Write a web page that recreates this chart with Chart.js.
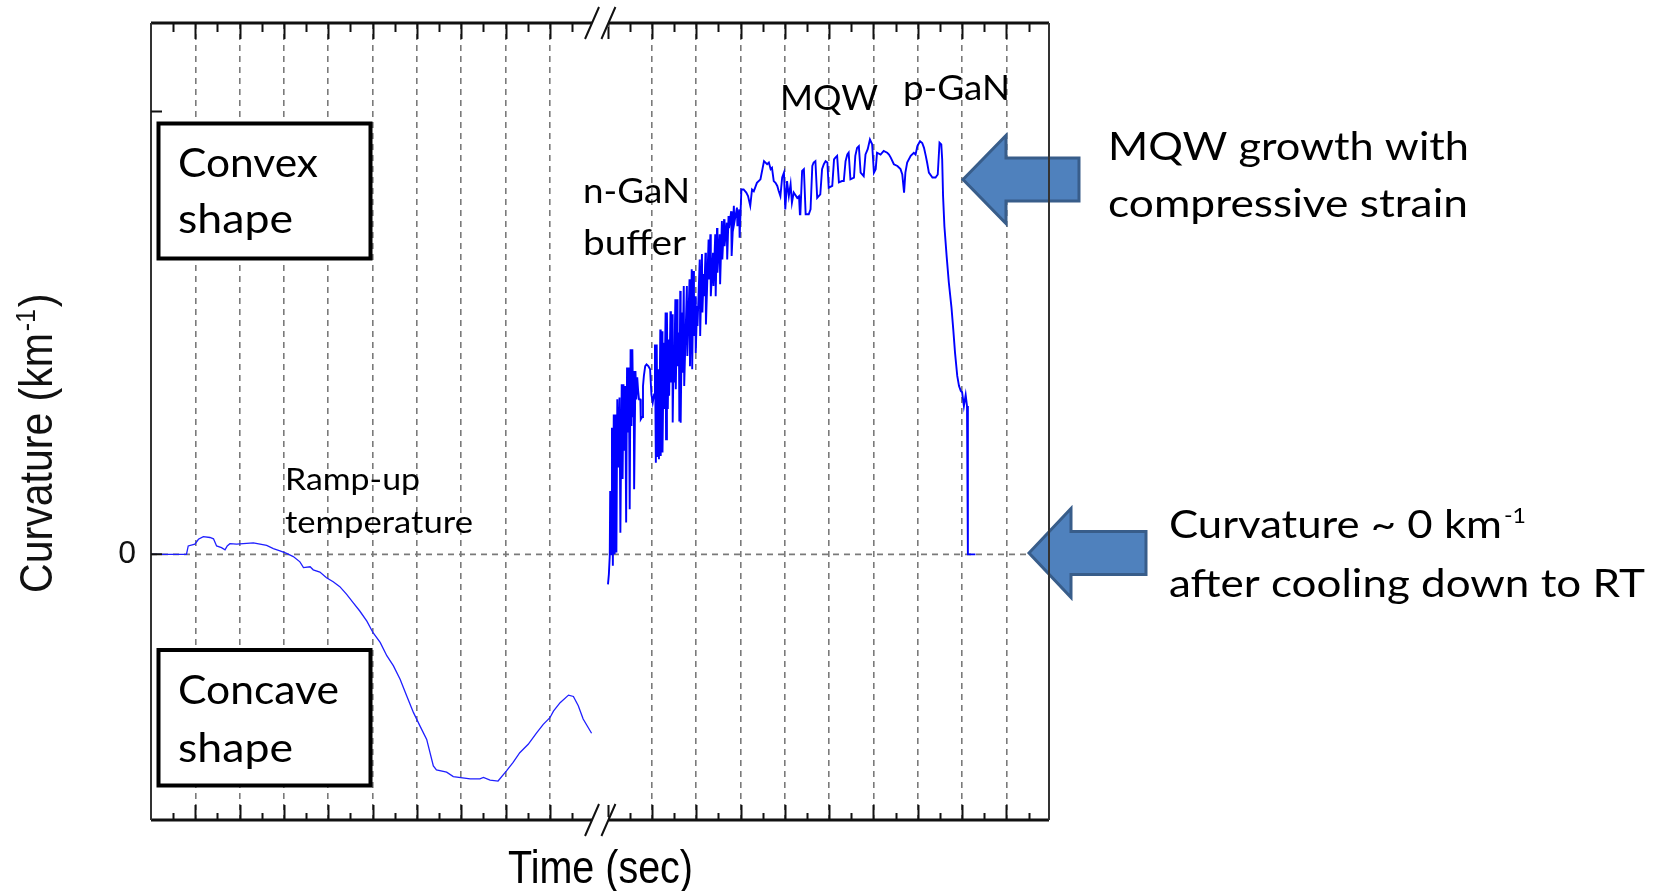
<!DOCTYPE html>
<html>
<head>
<meta charset="utf-8">
<title>Wafer curvature during LED growth</title>
<script src="https://cdn.jsdelivr.net/npm/chart.js@4.4.0/dist/chart.umd.min.js"></script>
<style>
  html, body { margin: 0; padding: 0; background: #fff; }
</style>
</head>
<body>
<canvas id="curv" width="1659" height="891"></canvas>
<script>
// time in grid units (one dashed line per unit), curvature in km^-1

// ramp-up, before the axis break
const rampTime = [0, 0.80, 0.84, 0.99, 1.07, 1.18, 1.33, 1.41, 1.48, 1.59, 1.67, 1.72, 1.78, 1.93, 2.08, 2.31, 2.46, 2.61, 2.76, 2.91, 3.06, 3.21, 3.36, 3.44, 3.59, 3.66, 3.81, 3.96, 4.11, 4.26, 4.41, 4.56, 4.71, 4.87, 5.01, 5.17, 5.32, 5.47, 5.62, 5.77, 5.92, 6.07, 6.22, 6.37, 6.44, 6.67, 6.82, 7.20, 7.42, 7.50, 7.65, 7.83, 8.02, 8.17, 8.32, 8.51, 8.70, 8.85, 9.00, 9.08, 9.23, 9.42, 9.53, 9.64, 9.75, 9.94];
const rampCurv = [0, 0, 1.9, 2.3, 3.4, 4.0, 3.8, 3.5, 1.9, 1.5, 1.0, 1.9, 2.4, 2.3, 2.4, 2.6, 2.3, 2.0, 1.3, 0.8, 0.2, -0.5, -1.7, -3.0, -2.8, -3.5, -4.0, -5.3, -6.2, -7.3, -9.0, -10.9, -12.8, -15.1, -17.7, -19.9, -22.9, -25.2, -28.2, -32.0, -35.7, -38.8, -41.8, -47.8, -48.7, -49.2, -50.2, -50.7, -50.7, -50.4, -51.0, -51.2, -48.9, -47.0, -44.8, -42.9, -40.3, -38.4, -36.9, -35.4, -33.5, -31.8, -32.1, -34.2, -37.2, -40.4];

// n-GaN buffer, MQW, p-GaN and cool-down, after the axis break
const growTime = [10.31, 10.33, 10.35, 10.36, 10.38, 10.40, 10.42, 10.44, 10.46, 10.48, 10.50, 10.52, 10.54, 10.57, 10.59, 10.62, 10.64, 10.66, 10.68, 10.70, 10.72, 10.74, 10.76, 10.78, 10.80, 10.82, 10.84, 10.86, 10.88, 10.89, 10.90, 10.93, 10.95, 10.97, 10.99, 11.01, 11.04, 11.05, 11.08, 11.10, 11.12, 11.15, 11.18, 11.22, 11.26, 11.29, 11.32, 11.35, 11.37, 11.39, 11.41, 11.43, 11.45, 11.46, 11.49, 11.50, 11.53, 11.54, 11.57, 11.58, 11.61, 11.62, 11.64, 11.66, 11.68, 11.69, 11.72, 11.73, 11.76, 11.77, 11.79, 11.80, 11.83, 11.84, 11.87, 11.88, 11.91, 11.92, 11.94, 11.95, 11.98, 11.99, 12.02, 12.03, 12.09, 12.10, 12.15, 12.16, 12.20, 12.21, 12.24, 12.25, 12.28, 12.29, 12.32, 12.33, 12.38, 12.39, 12.43, 12.44, 12.47, 12.48, 12.51, 12.52, 12.58, 12.59, 12.62, 12.63, 12.68, 12.69, 12.73, 12.74, 12.77, 12.78, 12.83, 12.84, 12.88, 12.89, 12.93, 12.94, 12.99, 13.00, 13.03, 13.04, 13.09, 13.10, 13.15, 13.16, 13.22, 13.23, 13.27, 13.28, 13.32, 13.37, 13.43, 13.47, 13.52, 13.56, 13.60, 13.67, 13.75, 13.83, 13.90, 13.94, 13.98, 14.01, 14.05, 14.09, 14.13, 14.16, 14.20, 14.24, 14.28, 14.31, 14.35, 14.39, 14.43, 14.46, 14.50, 14.58, 14.62, 14.64, 14.65, 14.69, 14.73, 14.77, 14.84, 14.88, 14.92, 14.95, 14.99, 15.03, 15.10, 15.14, 15.18, 15.22, 15.26, 15.29, 15.37, 15.41, 15.44, 15.48, 15.52, 15.59, 15.63, 15.67, 15.71, 15.74, 15.78, 15.86, 15.89, 15.93, 15.97, 16.01, 16.08, 16.12, 16.17, 16.22, 16.27, 16.31, 16.35, 16.38, 16.46, 16.53, 16.61, 16.65, 16.69, 16.76, 16.84, 16.91, 16.95, 16.99, 17.02, 17.06, 17.14, 17.21, 17.25, 17.29, 17.35, 17.40, 17.44, 17.48, 17.51, 17.55, 17.63, 17.70, 17.75, 17.79, 17.83, 17.85, 17.87, 17.90, 17.95, 18.00, 18.06, 18.10, 18.14, 18.19, 18.23, 18.27, 18.30, 18.34, 18.38, 18.41, 18.43, 18.43, 18.60];
const growCurv = [-6.8, -4.5, -0.4, 14.3, 0.0, 28.6, -2.6, 31.6, 0.0, 31.6, 0.4, 35.0, 19.6, 35.4, 4.9, 38.4, 17.0, 38.4, 23.4, 38.0, 7.2, 42.2, 27.5, 42.2, 10.2, 46.3, 29.0, 46.3, 31.2, 41.4, 14.7, 41.4, 35.0, 40.0, 37.0, 35.0, 35.0, 30.5, 31.0, 38.0, 40.3, 42.5, 42.9, 42.5, 41.8, 36.1, 34.3, 36.1, 47.4, 20.7, 47.4, 22.0, 41.8, 21.5, 50.8, 22.2, 50.4, 23.0, 47.8, 32.8, 54.6, 26.0, 54.6, 32.8, 48.5, 35.8, 54.9, 38.8, 54.2, 29.8, 44.4, 38.8, 57.6, 37.3, 57.6, 42.5, 50.1, 30.0, 59.5, 29.7, 54.6, 41.0, 60.6, 38.0, 60.6, 44.8, 62.1, 42.5, 64.4, 41.8, 64.0, 49.3, 58.3, 45.5, 56.1, 51.6, 66.6, 49.3, 67.8, 54.6, 63.3, 58.3, 68.1, 51.9, 71.1, 62.1, 72.3, 58.3, 68.1, 60.6, 72.3, 58.3, 73.7, 63.6, 72.3, 61.0, 75.3, 66.6, 75.7, 69.6, 74.9, 66.6, 76.4, 73.7, 77.5, 67.4, 78.7, 74.9, 78.3, 74.1, 77.9, 71.5, 82.4, 82.4, 81.7, 80.9, 78.7, 82.4, 82.0, 83.9, 84.7, 88.8, 88.1, 88.5, 87.0, 87.3, 84.3, 83.9, 83.2, 82.1, 80.9, 85.1, 86.2, 77.9, 84.3, 80.9, 83.6, 79.4, 81.7, 80.5, 80.9, 76.8, 76.8, 86.6, 87.0, 76.8, 76.8, 77.9, 87.7, 88.5, 88.8, 80.5, 81.3, 87.0, 88.1, 88.8, 88.5, 82.8, 83.2, 89.2, 89.6, 90.0, 84.0, 84.3, 84.3, 88.8, 90.3, 90.7, 84.7, 85.1, 90.0, 91.8, 92.2, 86.2, 85.4, 90.3, 91.5, 93.7, 92.6, 86.2, 87.0, 90.7, 90.3, 91.1, 90.7, 90.3, 89.6, 88.1, 87.7, 87.0, 85.8, 81.7, 86.2, 88.5, 90.0, 90.7, 90.3, 92.2, 93.3, 92.9, 91.8, 90.0, 88.5, 86.2, 85.1, 85.1, 85.8, 93.0, 92.6, 89.2, 80.9, 74.1, 67.4, 61.4, 55.7, 50.8, 45.5, 40.3, 38.0, 36.9, 36.6, 33.5, 36.0, 33.5, 33.0, 0, 0];

// axis ticks (no numbers on the time axis)
const gridTimes = [1, 2, 3, 4, 5, 6, 7, 8, 9, 11.3, 12.3, 13.3, 14.3, 15.3, 16.3, 17.3, 18.3, 19.3];
const majorTimes = [1, 2, 3, 4, 5, 6, 7, 8, 9, 10.3, 11.3, 12.3, 13.3, 14.3, 15.3, 16.3, 17.3, 18.3, 19.3];
const minorTimes = [0.5, 1.5, 2.5, 3.5, 4.5, 5.5, 6.5, 7.5, 8.5, 9.5, 10.8, 11.8, 12.8, 13.8, 14.8, 15.8, 16.8, 17.8, 18.8, 19.8];
const curvTicks = [0, 100];
const curvLabels = ["0", ""];
const breakFrom = 9.95;
const breakTo = 10.32;

const rampPts = rampTime.map((t, i) => ({ x: t, y: rampCurv[i] }));
const growPts = growTime.map((t, i) => ({ x: t, y: growCurv[i] }));

const LATO = "Lato, 'Open Sans', sans-serif";
const ARIAL = "'Liberation Sans', Arial, sans-serif";

// draw text squeezed to a given width
function fitText(ctx, str, x, base, size, family, width) {
  ctx.save();
  ctx.font = size + "px " + family;
  const w = ctx.measureText(str).width;
  ctx.translate(x, base);
  ctx.scale(width / w, 1);
  ctx.fillStyle = "#000";
  ctx.textAlign = "left";
  ctx.textBaseline = "alphabetic";
  ctx.fillText(str, 0, 0);
  ctx.restore();
}

function blockArrow(ctx, tipX, midY, headX, headHalf, endX, shaftHalf) {
  ctx.save();
  ctx.beginPath();
  ctx.moveTo(tipX, midY);
  ctx.lineTo(headX, midY - headHalf);
  ctx.lineTo(headX, midY - shaftHalf);
  ctx.lineTo(endX, midY - shaftHalf);
  ctx.lineTo(endX, midY + shaftHalf);
  ctx.lineTo(headX, midY + shaftHalf);
  ctx.lineTo(headX, midY + headHalf);
  ctx.closePath();
  ctx.fillStyle = "#4f81bd";
  ctx.fill();
  ctx.lineJoin = "miter";
  ctx.lineWidth = 3;
  ctx.strokeStyle = "#385d8a";
  ctx.stroke();
  ctx.restore();
}

function textBox(ctx, x, y, w, h, lines) {
  ctx.save();
  ctx.fillStyle = "#fff";
  ctx.fillRect(x, y, w, h);
  ctx.lineWidth = 4;
  ctx.strokeStyle = "#000";
  ctx.strokeRect(x, y, w, h);
  ctx.restore();
  lines.forEach(l => fitText(ctx, l[0], l[1], l[2], 40, LATO, l[3]));
}

const framePlugin = {
  id: "frame",
  beforeDatasetsDraw(chart) {
    const { ctx, chartArea: a, scales: { y } } = chart;
    const y0 = y.getPixelForValue(0);
    ctx.save();
    ctx.strokeStyle = "#7a7a7a";
    ctx.lineWidth = 1.6;
    ctx.setLineDash([6, 5]);
    ctx.beginPath();
    ctx.moveTo(a.left, y0);
    ctx.lineTo(1029, y0);
    ctx.stroke();
    ctx.restore();
  },
  afterDraw(chart) {
    const { ctx, chartArea: a, scales: { x, y } } = chart;

    // text boxes
    textBox(ctx, 158.5, 123.5, 212, 135, [["Convex", 178, 177, 140], ["shape", 178, 233, 115]]);
    textBox(ctx, 158.5, 650, 212, 135.5, [["Concave", 178, 704, 161], ["shape", 178, 762, 115]]);

    // arrows
    blockArrow(ctx, 963, 179.5, 1006, 44, 1079, 21.5);
    blockArrow(ctx, 1029, 553, 1071, 44.5, 1146, 21.5);

    // frame
    ctx.save();
    ctx.strokeStyle = "#111";
    ctx.lineWidth = 3;
    ctx.beginPath();
    ctx.moveTo(a.left, a.top); ctx.lineTo(a.right, a.top);
    ctx.moveTo(a.left, a.bottom); ctx.lineTo(a.right, a.bottom);
    ctx.stroke();
    ctx.strokeStyle = "#333";
    ctx.lineWidth = 2;
    ctx.beginPath();
    ctx.moveTo(a.left, a.top); ctx.lineTo(a.left, a.bottom);
    ctx.moveTo(a.right, a.top); ctx.lineTo(a.right, a.bottom);
    ctx.stroke();

    // tick marks, pointing inward
    ctx.strokeStyle = "#111";
    ctx.lineWidth = 2;
    ctx.beginPath();
    majorTimes.forEach(t => {
      const px = Math.round(x.getPixelForValue(t)) + 0.5;
      ctx.moveTo(px, a.top); ctx.lineTo(px, a.top + 16);
      ctx.moveTo(px, a.bottom); ctx.lineTo(px, a.bottom - 15);
    });
    minorTimes.forEach(t => {
      const px = Math.round(x.getPixelForValue(t)) + 0.5;
      ctx.moveTo(px, a.top); ctx.lineTo(px, a.top + 9);
      ctx.moveTo(px, a.bottom); ctx.lineTo(px, a.bottom - 7);
    });
    curvTicks.forEach(v => {
      const py = y.getPixelForValue(v);
      ctx.moveTo(a.left, py); ctx.lineTo(a.left + 11, py);
    });
    ctx.stroke();

    // axis break
    const b0 = x.getPixelForValue(breakFrom);
    const b1 = x.getPixelForValue(breakTo);
    ctx.fillStyle = "#fff";
    ctx.fillRect(b0, a.top - 3, b1 - b0, 7);
    ctx.fillRect(b0, a.bottom - 3, b1 - b0, 7);
    ctx.lineWidth = 2;
    ctx.strokeStyle = "#111";
    ctx.beginPath();
    [a.top, a.bottom].forEach(yy => {
      [b0, b1].forEach(bx => {
        ctx.moveTo(bx - 7, yy + 16);
        ctx.lineTo(bx + 7, yy - 16);
      });
    });
    ctx.stroke();
    ctx.restore();

    // y tick labels
    ctx.save();
    ctx.font = "32px " + ARIAL;
    ctx.fillStyle = "#111";
    ctx.textAlign = "right";
    ctx.textBaseline = "alphabetic";
    curvTicks.forEach((v, i) => {
      if (curvLabels[i]) ctx.fillText(curvLabels[i], 136, y.getPixelForValue(v) + 9);
    });
    ctx.restore();

    // axis titles
    fitText(ctx, "Time (sec)", 508, 883, 46, ARIAL, 185);
    ctx.save();
    ctx.translate(52, 593);
    ctx.rotate(-Math.PI / 2);
    ctx.fillStyle = "#111";
    ctx.font = "46px " + ARIAL;
    const main = "Curvature (km";
    const s = 260 / ctx.measureText(main).width;
    ctx.scale(s, 1);
    ctx.fillText(main, 0, 0);
    let off = ctx.measureText(main).width;
    ctx.font = "28px " + ARIAL;
    ctx.fillText("-1", off + 2, -17);
    off += ctx.measureText("-1").width + 4;
    ctx.font = "46px " + ARIAL;
    ctx.fillText(")", off, 0);
    ctx.restore();

    // annotations
    fitText(ctx, "Ramp-up", 285, 490, 30, LATO, 135);
    fitText(ctx, "temperature", 285, 533, 30, LATO, 188);
    fitText(ctx, "n-GaN", 583, 203, 35, LATO, 107);
    fitText(ctx, "buffer", 583, 255, 35, LATO, 103);
    fitText(ctx, "MQW", 780, 110, 35, LATO, 98);
    fitText(ctx, "p-GaN", 903, 100, 35, LATO, 107);
    fitText(ctx, "MQW growth with", 1108, 160, 39, LATO, 361);
    fitText(ctx, "compressive strain", 1108, 217, 39, LATO, 360);
    fitText(ctx, "Curvature ~ 0 km", 1169, 538, 39, LATO, 333);
    fitText(ctx, "-1", 1504, 523, 22, LATO, 22);
    fitText(ctx, "after cooling down to RT", 1169, 597, 39, LATO, 476);
  }
};

new Chart(document.getElementById("curv").getContext("2d"), {
  type: "line",
  data: {
    datasets: [
      { label: "ramp-up", data: rampPts, borderColor: "#1f1fff", borderWidth: 1.3, pointRadius: 0, tension: 0 },
      { label: "growth", data: growPts, borderColor: "#0000ff", borderWidth: 1.9, pointRadius: 0, tension: 0 }
    ]
  },
  options: {
    responsive: false,
    animation: false,
    devicePixelRatio: 1,
    layout: { padding: { left: 151, top: 23, right: 610, bottom: 71 } },
    plugins: { legend: { display: false }, tooltip: { enabled: false } },
    scales: {
      x: {
        type: "linear",
        min: 0,
        max: 20.26,
        afterBuildTicks: scale => { scale.ticks = gridTimes.map(v => ({ value: v })); },
        afterFit: scale => { scale.height = 0; },
        ticks: { display: false },
        grid: { color: "#7a7a7a", lineWidth: 1.6, drawTicks: false },
        border: { display: false, dash: [6, 5] }
      },
      y: {
        min: -60,
        max: 120,
        afterFit: scale => { scale.width = 0; },
        ticks: { display: false },
        grid: { display: false },
        border: { display: false }
      }
    }
  },
  plugins: [framePlugin]
});
</script>
</body>
</html>
